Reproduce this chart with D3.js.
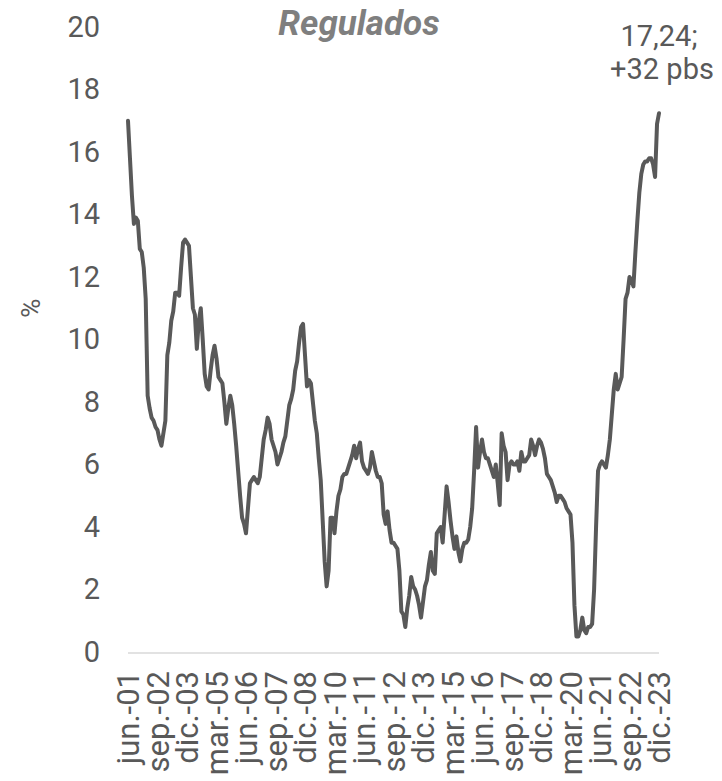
<!DOCTYPE html>
<html><head><meta charset="utf-8">
<script src="https://cdn.jsdelivr.net/npm/d3@7"></script>
<style>
html,body{margin:0;padding:0;background:#fff;}
svg{display:block;font-family:Roboto,"Noto Sans",sans-serif;}
</style></head>
<body><svg id="c" width="722" height="781"></svg>
<script>
// Monthly series, jun-2001 .. dic-2023 (index 0 = jun.-01)
const values = [
17.0,15.8,14.6,13.7,13.9,13.8,12.9,12.8,12.3,11.3,
8.2,7.8,7.5,7.4,7.2,7.1,6.8,6.6,7.0,7.4,
9.5,9.9,10.6,10.9,11.5,11.5,11.4,12.3,13.1,13.2,
13.1,13.0,12.0,11.0,10.8,9.7,10.6,11.0,10.0,8.9,
8.5,8.4,9.0,9.5,9.8,9.4,8.8,8.7,8.6,8.0,
7.3,7.8,8.2,7.9,7.3,6.6,5.8,5.0,4.3,4.1,
3.8,4.6,5.4,5.5,5.6,5.5,5.4,5.6,6.2,6.8,
7.1,7.5,7.3,6.8,6.6,6.4,6.0,6.2,6.4,6.7,
6.9,7.4,7.9,8.1,8.4,9.0,9.3,9.9,10.4,10.5,
9.5,8.5,8.7,8.6,8.0,7.4,7.0,6.2,5.5,4.2,
2.9,2.1,2.6,4.3,4.3,3.8,4.5,5.0,5.2,5.6,
5.7,5.7,5.9,6.1,6.3,6.6,6.2,6.5,6.7,6.1,
5.9,5.8,5.7,5.9,6.4,6.1,5.8,5.6,5.6,5.4,
4.4,4.1,4.5,3.9,3.5,3.5,3.4,3.3,2.6,1.3,
1.2,0.8,1.4,1.8,2.4,2.1,2.0,1.8,1.5,1.1,
1.6,2.1,2.3,2.8,3.2,2.6,2.5,3.8,3.9,4.0,
3.5,4.4,5.3,4.8,4.2,3.7,3.3,3.7,3.2,2.9,
3.3,3.5,3.5,3.6,4.0,4.6,5.8,7.2,5.9,6.4,
6.8,6.4,6.2,6.2,6.0,5.8,5.6,6.0,5.4,4.7,
7.0,6.6,6.4,5.5,6.0,6.1,6.0,6.0,6.1,5.8,
6.4,6.1,6.1,6.2,6.3,6.8,6.6,6.3,6.6,6.8,
6.7,6.5,6.2,5.7,5.6,5.5,5.3,5.1,4.8,5.0,
5.0,4.9,4.8,4.6,4.5,4.4,3.5,1.5,0.5,0.5,
0.7,1.1,0.7,0.6,0.8,0.8,0.9,2.0,4.0,5.8,
6.0,6.1,6.0,5.9,6.3,6.8,7.6,8.4,8.9,8.4,
8.6,8.8,10.0,11.3,11.5,12.0,11.9,11.7,12.8,13.8,
14.7,15.3,15.6,15.7,15.7,15.8,15.8,15.6,15.2,16.9,
17.24
];
const tickLabels = ["jun.-01","sep.-02","dic.-03","mar.-05","jun.-06","sep.-07","dic.-08","mar.-10","jun.-11","sep.-12","dic.-13","mar.-15","jun.-16","sep.-17","dic.-18","mar.-20","jun.-21","sep.-22","dic.-23"];
const tickStep = 15; // months between labels
const yTicks = [0,2,4,6,8,10,12,14,16,18,20];
const title = "Regulados";
const yLabel = "%";
const endLabel = ["17,24;", "+32 pbs"];

const svg = d3.select("#c");
const x = d3.scaleLinear().domain([0, values.length - 1]).range([128, 659]);
const y = d3.scaleLinear().domain([0, 20]).range([652, 27]);
const textColor = "#595959";

// x baseline
svg.append("line").attr("x1", x(0)).attr("x2", x(values.length - 1))
  .attr("y1", y(0) + 1).attr("y2", y(0) + 1)
  .attr("stroke", "#d9d9d9").attr("stroke-width", 1.5);

// y axis
const ya = svg.append("g").attr("transform", "translate(100,0)")
  .call(d3.axisLeft(y).tickValues(yTicks).tickSize(0).tickPadding(0));
ya.select(".domain").remove();
ya.selectAll("text").attr("fill", textColor).style("font-size", "29px")
  .style("font-family", "Roboto");

// x axis
const xa = svg.append("g").attr("transform", `translate(0,${y(0) + 19})`)
  .call(d3.axisBottom(x).tickValues(tickLabels.map((d, i) => i * tickStep))
    .tickFormat((d, i) => tickLabels[i]).tickSize(0).tickPadding(0));
xa.select(".domain").remove();
xa.selectAll("text").attr("fill", textColor).style("font-size", "31px")
  .style("font-family", "Roboto")
  .attr("text-anchor", "end").attr("transform", "rotate(-90)")
  .attr("x", 0).attr("y", 0).attr("dy", "0.35em");

// line
const line = d3.line().x((d, i) => x(i)).y(d => y(d));
svg.append("path").datum(values).attr("d", line)
  .attr("fill", "none").attr("stroke", "#595959").attr("stroke-width", 4)
  .attr("stroke-linejoin", "round").attr("stroke-linecap", "round");

// title
svg.append("text").attr("x", 359).attr("y", 35).attr("text-anchor", "middle")
  .attr("fill", "#7f7f7f").style("font-size", "35px").style("font-weight", "bold")
  .style("font-style", "italic").text(title);

// y label
svg.append("text").attr("transform", `translate(40,${y(11)}) rotate(-90)`)
  .attr("text-anchor", "middle").attr("fill", textColor).style("font-size", "26px").text(yLabel);

// end label
const el = svg.append("text").attr("text-anchor", "middle").attr("fill", textColor).style("font-size", "29px");
el.append("tspan").attr("x", 659).attr("y", 46).text(endLabel[0]);
el.append("tspan").attr("x", 662).attr("y", 79).text(endLabel[1]);
</script></body></html>
